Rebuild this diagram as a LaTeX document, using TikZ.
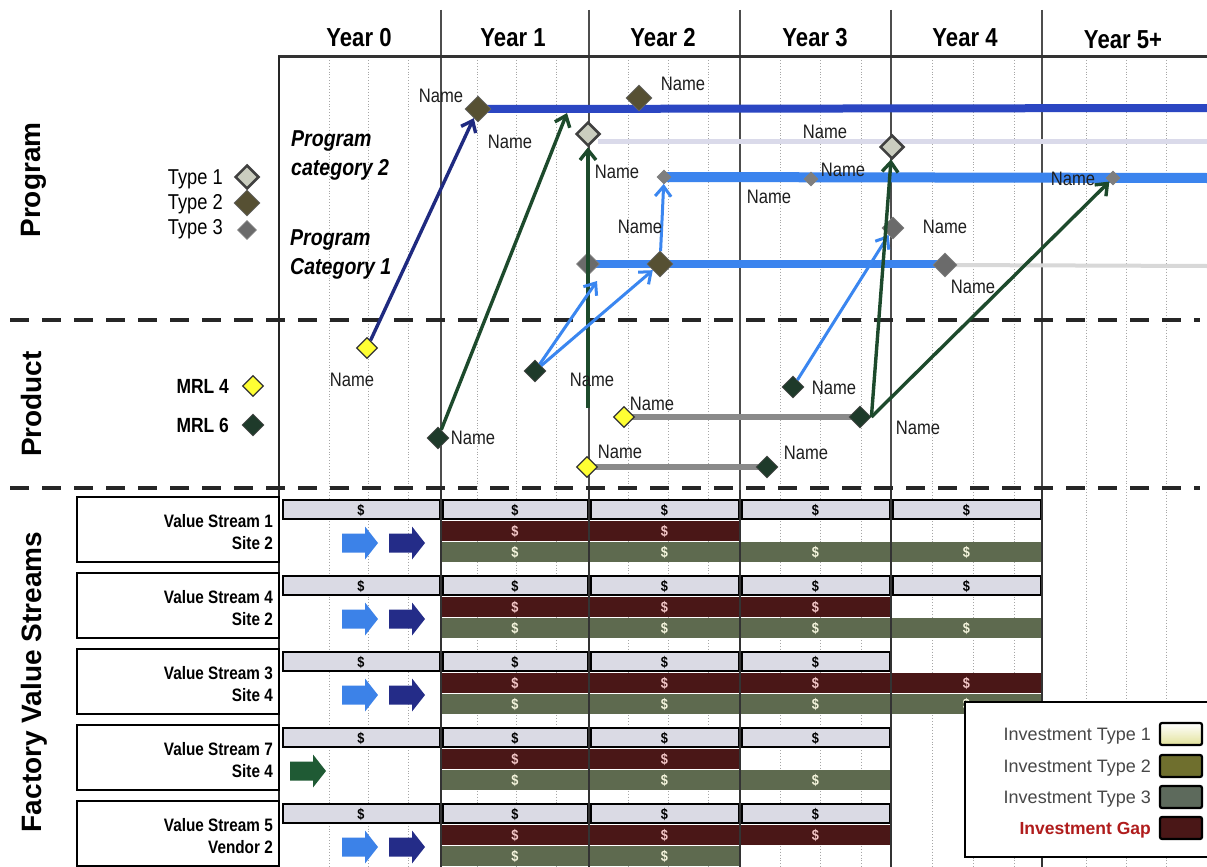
\documentclass[tikz,border=0pt]{standalone}
\usepackage{fontspec}
\setmainfont{Liberation Sans}
\newfontfamily\nar{Liberation Sans}[FakeStretch=0.85]
\usetikzlibrary{shapes.geometric,arrows.meta}

\definecolor{barnavy}{HTML}{2B46C2}
\definecolor{barblue}{HTML}{3B84EE}
\definecolor{ghost}{HTML}{DADAEA}
\definecolor{ghostgray}{HTML}{D8D8D8}
\definecolor{arrnavy}{HTML}{1F2A80}
\definecolor{arrgreen}{HTML}{1D4A2C}
\definecolor{arrblue}{HTML}{3A86F0}
\definecolor{tyonefill}{HTML}{CACDBF}
\definecolor{tytwofill}{HTML}{565033}
\definecolor{tythreefill}{HTML}{7E7E7E}
\definecolor{mrlfour}{HTML}{FFFF33}
\definecolor{mrlsix}{HTML}{1E3A2A}
\definecolor{lightbar}{HTML}{DADAE4}
\definecolor{gapbar}{HTML}{4A1717}
\definecolor{greenbar}{HTML}{5E6A4F}
\definecolor{olivebar}{HTML}{6F6F2E}
\definecolor{typethree}{HTML}{5D6A5C}
\definecolor{paleyellow}{HTML}{E2E29A}
\definecolor{gaptext}{HTML}{B01C1C}
\definecolor{prodbar}{HTML}{8A8A8A}
\definecolor{yearline}{HTML}{4D4D4D}
\definecolor{blkblue}{HTML}{3C82E8}
\definecolor{blknavy}{HTML}{242C88}
\definecolor{blkgreen}{HTML}{1F5A34}
\definecolor{pinkdollar}{HTML}{F2C6C6}
\definecolor{creamdollar}{HTML}{F4F4DC}

\tikzset{
  nm/.style={font=\nar\fontsize{19.5}{19.5}\selectfont, text=black!88, inner sep=0pt},
  yearlbl/.style={font=\nar\bfseries\fontsize{26}{26}\selectfont, inner sep=0pt},
  sectlbl/.style={font=\bfseries\fontsize{28}{28}\selectfont, rotate=90, inner sep=0pt, text depth=0pt},
  catlbl/.style={font=\nar\bfseries\itshape\fontsize{23}{29}\selectfont, align=left, anchor=west, inner sep=0pt},
  keylbl/.style={font=\nar\fontsize{21.5}{21.5}\selectfont, anchor=east, inner sep=0pt, text depth=0pt},
  mrllbl/.style={font=\nar\bfseries\fontsize{20.5}{20.5}\selectfont, anchor=east, inner sep=0pt, text depth=0pt},
  vslbl/.style={font=\nar\bfseries\fontsize{18}{18}\selectfont, anchor=east, inner sep=0pt, text depth=0pt},
  dollar/.style={font=\nar\bfseries\fontsize{15}{15}\selectfont, inner sep=0pt, text depth=0pt},
  legtxt/.style={font=\fontsize{18}{18}\selectfont, text=black!72, anchor=east, inner sep=0pt, text depth=0pt},
  dia/.style={diamond, aspect=1, inner sep=0pt, minimum width=#1, minimum height=#1},
  tyone/.style={dia=24pt, fill=tyonefill, draw=black!75, line width=2.5pt},
  tytwo/.style={dia=26pt, fill=tytwofill, draw=black!60, line width=0.8pt},
  tythreesm/.style={dia=14pt, fill=tythreefill, draw=gray, line width=0.6pt},
  tythree/.style={dia=#1, fill=tythreefill!85!black, draw=gray, line width=0.6pt},
  mrlf/.style={dia=21pt, fill=mrlfour, draw=black!80, line width=1.2pt},
  mrls/.style={dia=22pt, fill=mrlsix, draw=black!70, line width=0.8pt},
  link/.style={line width=3.4pt, -{Straight Barb[length=10pt,width=16pt]}},
  namebox/.style={draw, line width=2.2pt, fill=white, minimum width=202pt, minimum height=65pt, inner sep=0pt},
  lightcell/.style={fill=lightbar, draw=black, line width=2pt},
  swatch/.style={draw=black, line width=2.2pt, minimum width=42pt, minimum height=22pt, rounded corners=2pt, inner sep=0pt}
}

% solid block arrow centred on #1
\newcommand\blockarrow[2]{%
  \fill[#2,shift={#1}] (-18,-9.5) -- (5,-9.5) -- (5,-16.5) -- (18,0) -- (5,16.5) -- (5,9.5) -- (-18,9.5) -- cycle;}

\begin{document}
\begin{tikzpicture}[x=1pt,y=-1pt]
\useasboundingbox (0,0) rectangle (1207,867);
\fill[white] (0,0) rectangle (1207,867);

% quarter grid
\foreach \x in {329,368,408,477,516,556,628,668,708,780,820,861,932,973,1014,1086,1126,1166}
  \draw[gray!70, line width=0.9pt, dotted] (\x,60) -- (\x,867);

% year separators and frame
\foreach \x in {441,589,740,891,1042}
  \draw[yearline, line width=1.5pt] (\x,10) -- (\x,867);
\draw[black!80, line width=3pt] (278,57) -- (1207,57);
\draw[black!85, line width=2.5pt] (279,56) -- (279,867);

% year headings
\node[yearlbl] (y0) at (359,38) {Year 0};
\node[yearlbl] (y1) at (513,38) {Year 1};
\node[yearlbl] (y2) at (663,38) {Year 2};
\node[yearlbl] (y3) at (815,38) {Year 3};
\node[yearlbl] (y4) at (965,38) {Year 4};
\node[yearlbl] (y5) at (1123,40) {Year 5+};

% section dividers
\foreach \y in {320,488}
  \draw[black!85, line width=4.5pt, dash pattern=on 19pt off 13pt] (10,\y) -- (1200,\y);

% section titles
\node[sectlbl] (secprog) at (31,180) {Program};
\node[sectlbl] (secprod) at (31,404) {Product};
\node[sectlbl] (secfvs) at (31,682) {Factory Value Streams};

% key: program milestone types
\node[keylbl] (kt1) at (223,177) {Type 1};
\node[keylbl] (kt2) at (223,202) {Type 2};
\node[keylbl] (kt3) at (223,227) {Type 3};
\node[tyone] (kd1) at (247,177) {};
\node[tytwo] (kd2) at (247,203) {};
\node[tythree=19pt] (kd3) at (247,230) {};

% key: product maturity
\node[mrllbl] (km4) at (229,386) {MRL 4};
\node[mrllbl] (km6) at (229,425) {MRL 6};
\node[mrlf] (kdm4) at (253,386) {};
\node[mrls] (kdm6) at (253,425) {};

% program categories
\node[catlbl] (cat2) at (291,155) {Program\\category 2};
\node[catlbl] (cat1) at (290,254) {Program\\Category 1};

% milestone positions
\coordinate (P1) at (478,109);
\coordinate (P2) at (639,98);
\coordinate (P3) at (588,134);
\coordinate (P4) at (892,147);
\coordinate (P5) at (664,177);
\coordinate (P6) at (811,179);
\coordinate (P7) at (1113,178);
\coordinate (P8) at (893,228);
\coordinate (P9) at (588,264);
\coordinate (P10) at (660,264);
\coordinate (P11) at (945,265);
\coordinate (D1) at (367,348);
\coordinate (D2) at (438,438);
\coordinate (D3) at (535,371);
\coordinate (D4) at (624,417);
\coordinate (D5) at (860,417);
\coordinate (D6) at (587,467);
\coordinate (D7) at (767,467);
\coordinate (D8) at (793,387);
\coordinate (endA) at (1207,108);
\coordinate (startB) at (598,141);
\coordinate (endB) at (1207,141);
\coordinate (endC) at (1207,178);
\coordinate (startD) at (596,264);
\coordinate (endD) at (945,264);
\coordinate (ghostD) at (1207,266);

% program bars
\draw[ghost, line width=5pt] (startB) -- (endB);
\draw[barnavy, line width=8pt] (P1) -- (endA);
\draw[barblue, line width=10pt] (P5) -- (endC);
\draw[ghostgray, line width=4pt] (P11) -- (ghostD);
\draw[barblue, line width=8pt] (startD) -- (endD);

% product bars
\draw[prodbar, line width=5.5pt] (D4) -- (D5);
\draw[prodbar, line width=5.5pt] (D6) -- (D7);

% milestones
\node[tytwo] (p1) at (P1) {};
\node[tytwo] (p2) at (P2) {};
\node[tyone] (p3) at (P3) {};
\node[tyone] (p4) at (P4) {};
\node[tythreesm] (p5) at (P5) {};
\node[tythreesm] (p6) at (P6) {};
\node[tythreesm] (p7) at (P7) {};
\node[tythree=22pt] (p8) at (P8) {};
\node[tythree=23pt] (p9) at (P9) {};
\node[tytwo] (p10) at (P10) {};
\node[tythree=24pt] (p11) at (P11) {};

\node[mrlf] (d1) at (D1) {};
\node[mrls] (d2) at (D2) {};
\node[mrls] (d3) at (D3) {};
\node[mrlf] (d4) at (D4) {};
\node[mrls] (d5) at (D5) {};
\node[mrlf] (d6) at (D6) {};
\node[mrls] (d7) at (D7) {};
\node[mrls] (d8) at (D8) {};

% dependency links
\coordinate (c2) at (567,113);
\coordinate (c3) at (588,408);
\coordinate (c4) at (597,281);
\draw[link, arrnavy] (d1) -- (p1);
\draw[link, arrgreen] (d2) -- (c2);
\draw[link, arrgreen] (c3) -- (p3);
\draw[link, arrblue, line width=3pt] (d3) -- (c4);
\draw[link, arrblue, line width=3pt] (d3) -- (p10);
\draw[link, arrblue, line width=3pt] (p10) -- (p5);
\draw[link, arrblue, line width=3pt] (d8) -- (p8);
\draw[link, arrgreen] (d5.east) -- (p4);
\draw[link, arrgreen] (d5.east) -- (p7);

% milestone names
\node[nm] (n1) at (441,96) {Name};
\node[nm] (n2) at (510,142) {Name};
\node[nm] (n3) at (683,84) {Name};
\node[nm] (n4) at (617,172) {Name};
\node[nm] (n5) at (825,132) {Name};
\node[nm] (n6) at (843,170) {Name};
\node[nm] (n7) at (769,197) {Name};
\node[nm] (n8) at (1073,179) {Name};
\node[nm] (n9) at (640,227) {Name};
\node[nm] (n10) at (945,227) {Name};
\node[nm] (n11) at (973,287) {Name};
\node[nm] (n12) at (352,380) {Name};
\node[nm] (n13) at (473,438) {Name};
\node[nm] (n14) at (592,380) {Name};
\node[nm] (n15) at (652,404) {Name};
\node[nm] (n16) at (918,428) {Name};
\node[nm] (n17) at (620,452) {Name};
\node[nm] (n18) at (806,453) {Name};
\node[nm] (n19) at (834,388) {Name};

% factory value streams
\foreach \t/\L/\R/\G/\na/\nb/\k in {
  498/{0,1,2,3,4}/{1,2}/{1,2,3,4}/Value Stream 1/Site 2/1,
  574/{0,1,2,3,4}/{1,2,3}/{1,2,3,4}/Value Stream 4/Site 2/2,
  650/{0,1,2,3}/{1,2,3,4}/{1,2,3,4}/Value Stream 3/Site 4/3,
  726/{0,1,2,3}/{1,2}/{1,2,3}/Value Stream 7/Site 4/4,
  802/{0,1,2,3}/{1,2,3}/{1,2}/Value Stream 5/Vendor 2/5}{
  \node[namebox] (vsbox\k) at (178,\t+31.5) {};
  \node[vslbl] (vsname\k) at (273,\t+23) {\na};
  \node[vslbl] (vssite\k) at (273,\t+45) {\nb};
  \foreach \i in \L {
    \pgfmathsetmacro\xa{{281,441,589,740,891}[\i]}
    \pgfmathsetmacro\xb{{441,589,740,891,1042}[\i]}
    \draw[lightcell] (\xa+1.5,\t+2) rectangle (\xb-1.5,\t+21);
    \node[dollar] (inv\k-\i) at ({(\xa+\xb)/2},\t+11.5) {\$};
  }
  \foreach \i in \R {
    \pgfmathsetmacro\xa{{281,441,589,740,891}[\i]}
    \pgfmathsetmacro\xb{{441,589,740,891,1042}[\i]}
    \fill[gapbar] (\xa+1,\t+22.5) rectangle (\xb-1,\t+42.5);
    \node[dollar, text=pinkdollar] (gap\k-\i) at ({(\xa+\xb)/2},\t+32.5) {\$};
  }
  \foreach \i in \G {
    \pgfmathsetmacro\xa{{281,441,589,740,891}[\i]}
    \pgfmathsetmacro\xb{{441,589,740,891,1042}[\i]}
    \fill[greenbar] (\xa+1,\t+43.5) rectangle (\xb-1,\t+63.5);
    \node[dollar, text=creamdollar] (grn\k-\i) at ({(\xa+\xb)/2},\t+53.5) {\$};
  }
}
\foreach \x in {441,589,740,891,1042}
  \draw[black!80, line width=1.5pt] (\x,490) -- (\x,867);

% transitions in year 0
\foreach \t in {498,574,650,802}{
  \blockarrow{(360,\t+45)}{blkblue}
  \blockarrow{(407,\t+45)}{blknavy}
}
\blockarrow{(308,771)}{blkgreen}

% investment legend
\draw[fill=white, line width=2.5pt] (965,702) rectangle (1220,857);
\node[legtxt] (lt1) at (1151,734) {Investment Type 1};
\node[legtxt] (lt2) at (1151,766) {Investment Type 2};
\node[legtxt] (lt3) at (1151,797) {Investment Type 3};
\node[legtxt, font=\bfseries\fontsize{17.5}{17.5}\selectfont, text=gaptext] (lt4) at (1151,828) {Investment Gap};
\node[swatch, top color=white, bottom color=paleyellow] (ls1) at (1181,734) {};
\node[swatch, fill=olivebar] (ls2) at (1181,766) {};
\node[swatch, fill=typethree] (ls3) at (1181,797) {};
\node[swatch, fill=gapbar] (ls4) at (1181,828) {};
\end{tikzpicture}
\end{document}
